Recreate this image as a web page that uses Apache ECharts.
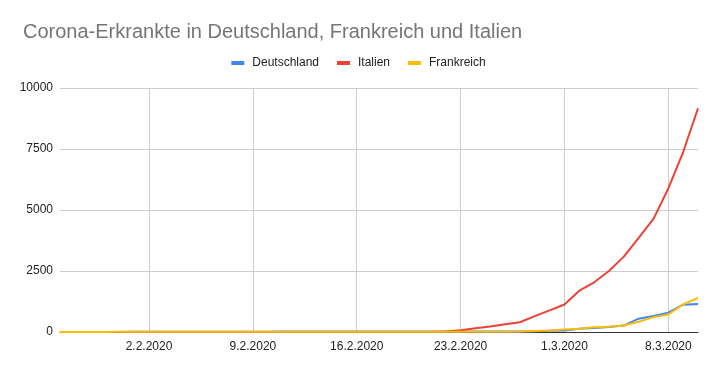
<!DOCTYPE html>
<html><head><meta charset="utf-8">
<script src="https://cdn.jsdelivr.net/npm/echarts@6/dist/echarts.min.js"></script>
<style>html,body{margin:0;padding:0;background:#fff}#c{width:717px;height:371px}</style>
</head><body><div id="c"></div>
<script>
const dates = [
 '27.1.2020','28.1.2020','29.1.2020','30.1.2020','31.1.2020',
 '1.2.2020','2.2.2020','3.2.2020','4.2.2020','5.2.2020','6.2.2020','7.2.2020','8.2.2020',
 '9.2.2020','10.2.2020','11.2.2020','12.2.2020','13.2.2020','14.2.2020','15.2.2020',
 '16.2.2020','17.2.2020','18.2.2020','19.2.2020','20.2.2020','21.2.2020','22.2.2020',
 '23.2.2020','24.2.2020','25.2.2020','26.2.2020','27.2.2020','28.2.2020','29.2.2020',
 '1.3.2020','2.3.2020','3.3.2020','4.3.2020','5.3.2020','6.3.2020','7.3.2020','8.3.2020',
 '9.3.2020','10.3.2020'
];
const deutschland = [1,4,4,4,5,8,10,12,12,12,12,13,13,14,14,16,16,16,16,16,16,16,16,16,16,16,16,16,16,16,18,21,26,48,66,130,165,203,262,545,655,795,1120,1150];
const italien = [0,0,0,0,2,2,2,2,2,2,2,3,3,3,3,3,3,3,3,3,3,3,3,3,3,3,18,70,155,229,322,400,650,888,1128,1694,2036,2502,3089,3858,4636,5883,7375,9172];
const frankreich = [3,4,5,5,6,6,6,6,6,6,6,6,11,11,11,11,11,11,11,12,12,12,12,12,12,12,12,12,12,12,14,18,38,57,100,130,191,212,270,423,610,720,1126,1400];
const yTicks = [0,2500,5000,7500,10000];
const labelIdx = [6,13,20,27,34,41];

const FONT = "'Liberation Sans', Arial, sans-serif";
const chart = echarts.init(document.getElementById('c'));
const showAt = (i) => labelIdx.indexOf(i) >= 0;
chart.setOption({
  animation:false,
  color:['#4285F4','#EA4335','#FBBC04'],
  title:{text:'Corona-Erkrankte in Deutschland, Frankreich und Italien',left:18,top:17,
    textStyle:{fontFamily:FONT,fontSize:20,fontWeight:'normal',color:'#757575'}},
  legend:{top:52,left:'center',itemWidth:13,itemHeight:4,itemGap:18,icon:'rect',
    textStyle:{fontFamily:FONT,fontSize:12,color:'#222',padding:[0,0,0,3]},
    data:['Deutschland','Italien','Frankreich']},
  grid:{left:60,right:19,top:88,bottom:39},
  xAxis:{type:'category',data:dates,boundaryGap:false,
    axisLine:{lineStyle:{color:'#333',width:1}},axisTick:{show:false},
    axisLabel:{interval:(i)=>showAt(i),fontFamily:FONT,fontSize:12,color:'#222',margin:9},
    splitLine:{show:true,interval:(i)=>showAt(i),lineStyle:{color:'#ccc'}}},
  yAxis:{type:'value',min:0,max:10000,interval:2500,
    axisLine:{show:false},axisTick:{show:false},
    axisLabel:{fontFamily:FONT,fontSize:12,color:'#222',margin:7,
      formatter:(v)=>yTicks.indexOf(v)>=0?String(v):''},
    splitLine:{lineStyle:{color:'#ccc'}}},
  series:[
    {name:'Deutschland',type:'line',data:deutschland,symbol:'none',lineStyle:{width:2}},
    {name:'Italien',type:'line',data:italien,symbol:'none',lineStyle:{width:2}},
    {name:'Frankreich',type:'line',data:frankreich,symbol:'none',lineStyle:{width:2}}
  ]
});
</script></body></html>
